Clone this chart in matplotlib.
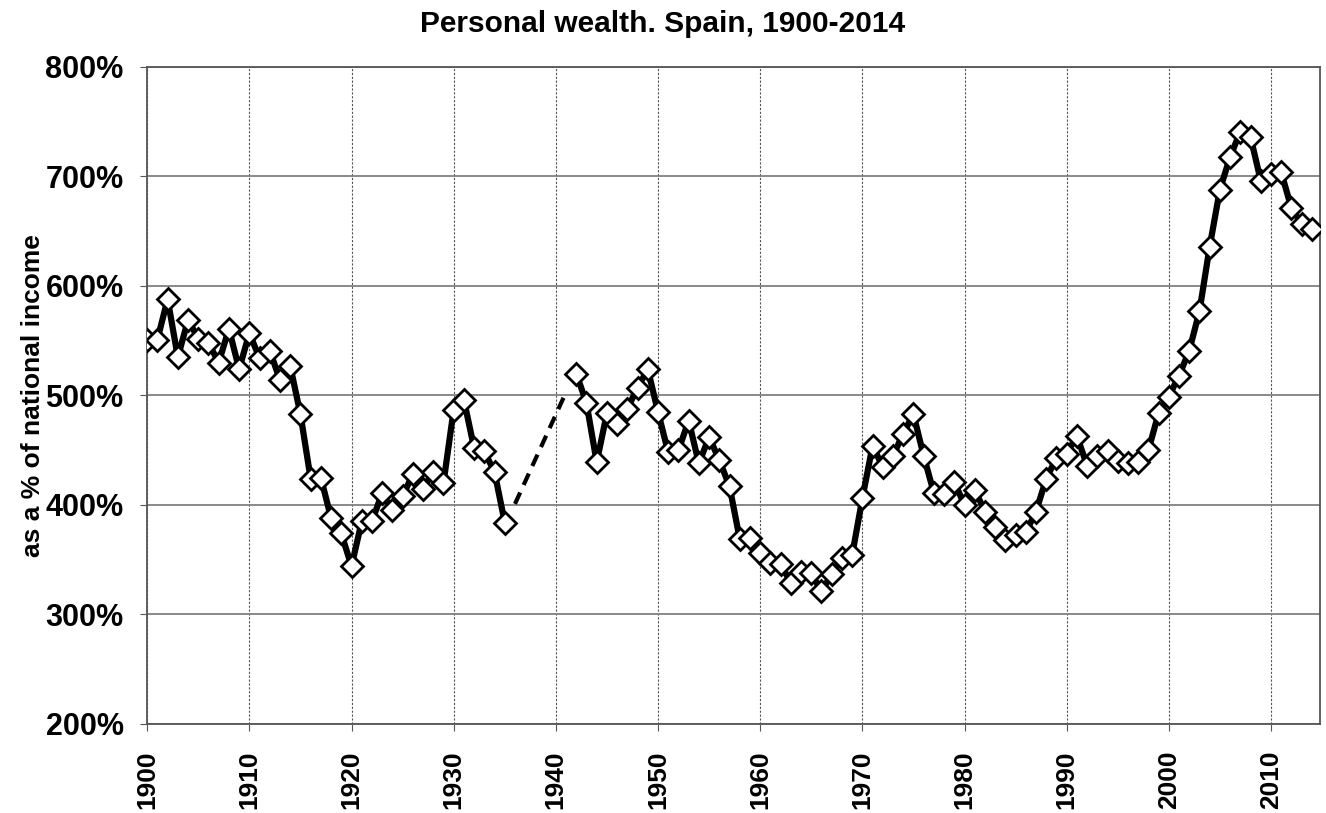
import numpy as np
import matplotlib
matplotlib.use("Agg")
import matplotlib.pyplot as plt
import matplotlib.ticker as ticker

plt.rcParams['font.family'] = ['Liberation Sans', 'DejaVu Sans']

# personal wealth as % of national income
years_a = list(range(1900, 1936))
wealth_a = [551, 551, 588, 535, 569, 552, 548, 530, 561, 524,
            557, 534, 541, 514, 527, 483, 424, 425, 388, 374,
            344, 385, 385, 411, 395, 408, 428, 415, 430, 420,
            487, 496, 452, 449, 430, 384]

years_b = list(range(1942, 2015))
wealth_b = [520, 493, 439, 484, 474, 488, 507, 524,
            485, 448, 450, 477, 438, 462, 441, 417, 369, 370,
            356, 347, 346, 329, 339, 338, 321, 337, 352, 354,
            406, 454, 435, 445, 465, 483, 445, 411, 410, 421,
            400, 414, 394, 380, 368, 373, 375, 394, 424, 443,
            447, 463, 436, 445, 449, 440, 438, 439, 450, 484,
            499, 518, 541, 577, 636, 688, 718, 741, 736, 696,
            702, 704, 671, 657, 652]

# war years gap, dashed
gap_years = [1936, 1941]
gap_vals = [401, 503]

yticks = [200, 300, 400, 500, 600, 700, 800]
xticks = list(range(1900, 2011, 10))

fig = plt.figure(figsize=(13.26, 8.13), dpi=100)
ax = fig.add_axes([0.111, 0.1095, 0.8845, 0.8081])

mk = dict(color='black', lw=4.5, marker='D', markersize=11,
          markerfacecolor='white', markeredgecolor='black', markeredgewidth=2)
ax.plot(years_a, wealth_a, **mk, zorder=3)
ax.plot(years_b, wealth_b, **mk, zorder=3)
ax.plot(gap_years, gap_vals, color='black', lw=3, ls=(0, (3, 2)), zorder=2)

ax.set_xlim(1900, 2014.8)
ax.set_ylim(200, 800)
ax.set_yticks(yticks)
ax.set_xticks(xticks)
ax.yaxis.set_major_formatter(ticker.FuncFormatter(lambda v, p: "%d%%" % v))

ax.grid(axis='y', color='#808080', lw=1.3, ls='-')
ax.grid(axis='x', color='#555555', lw=0.8, ls=(0, (2, 1.5)))
ax.set_axisbelow(True)

for s in ax.spines.values():
    s.set_color('#555555')
    s.set_linewidth(1.3)

ax.tick_params(axis='y', labelsize=22, length=5, color='#555555', pad=12)
ax.tick_params(axis='x', labelsize=19, length=5, color='#555555', labelrotation=90, pad=14)
for lab in ax.get_xticklabels() + ax.get_yticklabels():
    lab.set_fontweight('bold')

ax.set_ylabel("as a % of national income", fontsize=19, fontweight='bold', labelpad=0)
fig.suptitle("Personal wealth. Spain, 1900-2014", fontsize=21.5, fontweight='bold', y=0.988)

fig.savefig("out.png", dpi=100)
